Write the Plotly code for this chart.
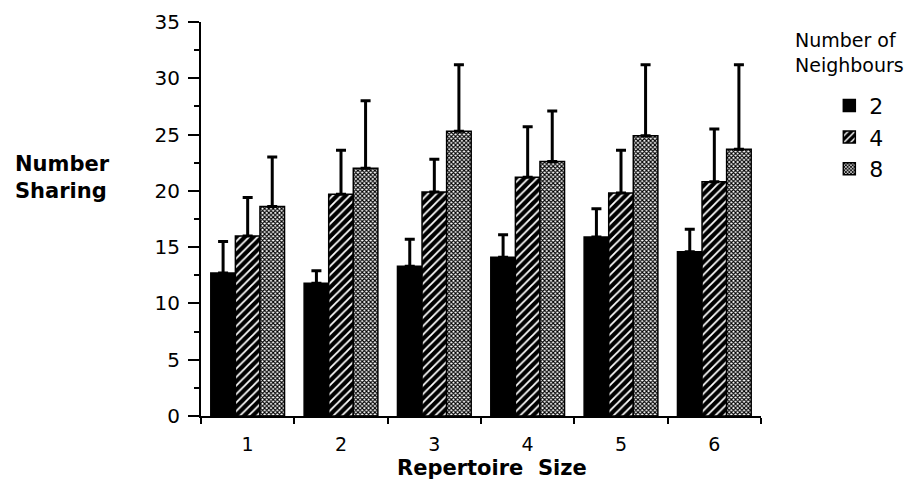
import plotly.graph_objects as go

categories = ["1", "2", "3", "4", "5", "6"]
series_names = ["2", "4", "8"]

mean_2 = [12.7, 11.8, 13.3, 14.1, 15.9, 14.6]
mean_4 = [16.0, 19.7, 19.9, 21.2, 19.8, 20.8]
mean_8 = [18.6, 22.0, 25.3, 22.6, 24.9, 23.7]

upper_2 = [15.5, 12.9, 15.7, 16.1, 18.4, 16.6]
upper_4 = [19.4, 23.6, 22.8, 25.7, 23.6, 25.5]
upper_8 = [23.0, 28.0, 31.2, 27.1, 31.2, 31.2]

y_ticks = [0, 5, 10, 15, 20, 25, 30, 35]

FONT = "DejaVu Sans"

styles = {
    "2": dict(color="black", pattern=dict(shape="")),
    "4": dict(color="black", pattern=dict(shape="/", fgcolor="white", bgcolor="black",
                                          size=6, solidity=0.3, fillmode="replace")),
    "8": dict(color="white", pattern=dict(shape="x", fgcolor="black", bgcolor="white",
                                          size=3, solidity=0.6, fillmode="replace")),
}

fig = go.Figure()
for name, means, uppers in [("2", mean_2, upper_2), ("4", mean_4, upper_4), ("8", mean_8, upper_8)]:
    errs = [u - m for u, m in zip(uppers, means)]
    fig.add_trace(go.Bar(
        x=categories, y=means, name=name,
        marker=dict(color=styles[name]["color"], pattern=styles[name]["pattern"],
                    line=dict(color="black", width=1.5)),
        error_y=dict(type="data", symmetric=False, array=errs,
                     arrayminus=[0] * len(errs), color="black", thickness=3, width=5),
    ))

# page body has an 8px margin, so the figure is drawn 8px smaller and offset
fig.update_layout(
    width=906, height=473,
    margin=dict(l=193, r=153, t=14, b=65),
    plot_bgcolor="white", paper_bgcolor="white",
    barmode="group", bargap=0.21, bargroupgap=0,
    font=dict(family=FONT, size=20, color="black"),
    showlegend=True,
    legend=dict(x=1.122, y=0.841, xanchor="left", yanchor="top",
                font=dict(family=FONT, size=22, color="black"),
                bgcolor="rgba(0,0,0,0)", tracegroupgap=0),
    xaxis=dict(
        type="category", range=[-0.5, 5.5], tickson="boundaries",
        ticks="outside", ticklen=6, tickwidth=2, tickcolor="black",
        ticklabelstandoff=10, automargin=False,
        showline=True, linecolor="black", linewidth=2, showgrid=False,
        tickfont=dict(family=FONT, size=19, color="black"),
        zeroline=False,
    ),
    yaxis=dict(
        range=[0, 35], tickvals=y_ticks, ticktext=[str(v) for v in y_ticks],
        ticks="outside", ticklen=11, tickwidth=2, tickcolor="black",
        ticklabelstandoff=4, automargin=False,
        minor=dict(dtick=2.5, ticks="outside", ticklen=5, tickwidth=1.5, tickcolor="black"),
        showline=True, linecolor="black", linewidth=2, showgrid=False,
        zeroline=False, tickfont=dict(family=FONT, size=20, color="black"),
    ),
    annotations=[
        dict(text="<b>Number<br>Sharing</b>", xref="paper", yref="paper",
             x=-0.336, y=0.605, xanchor="left", yanchor="middle", align="left",
             showarrow=False, font=dict(family=FONT, size=21, color="black")),
        dict(text="<b>Repertoire  Size</b>", xref="paper", yref="paper",
             x=0.52, y=-0.133, xanchor="center", yanchor="middle",
             showarrow=False, font=dict(family=FONT, size=21, color="black")),
        dict(text="Number of<br>Neighbours", xref="paper", yref="paper",
             x=1.057, y=0.987, xanchor="left", yanchor="top", align="left",
             showarrow=False, font=dict(family=FONT, size=19, color="black")),
    ],
)

fig.write_html("out.html")
